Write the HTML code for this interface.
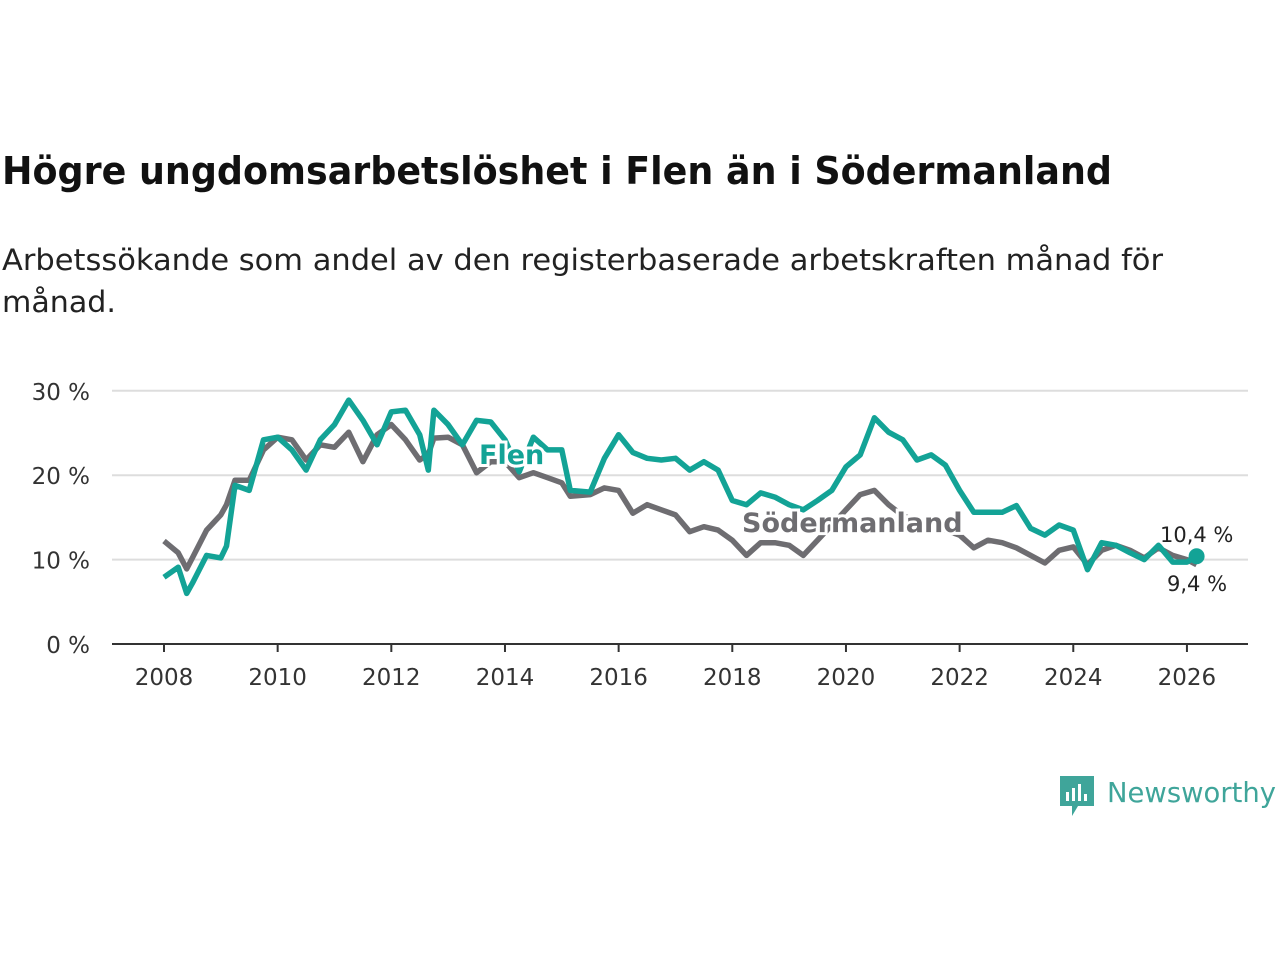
<!DOCTYPE html>
<html><head><meta charset="utf-8"><style>
body{margin:0;width:1280px;height:960px;background:#fff;font-family:"DejaVu Sans","Liberation Sans",sans-serif;overflow:hidden}
</style></head><body>
<svg width="1280" height="960">
<text x="2" y="184" font-size="38" font-weight="bold" fill="#111" textLength="1110" lengthAdjust="spacingAndGlyphs">Högre ungdomsarbetslöshet i Flen än i Södermanland</text>
<text x="2" y="270" font-size="29" fill="#222" textLength="1161" lengthAdjust="spacingAndGlyphs">Arbetssökande som andel av den registerbaserade arbetskraften månad för</text>
<text x="2" y="312" font-size="29" fill="#222" textLength="114" lengthAdjust="spacingAndGlyphs">månad.</text>
<g id="grid"></g><g id="xaxis"></g><g id="lines"></g>
<g>
<path d="M1060 776h34v30h-16l-6 10v-10h-12z" fill="#3fa59a"/>
<rect x="1066" y="792" width="3" height="9" fill="#fff"/><rect x="1072" y="788" width="3" height="13" fill="#fff"/><rect x="1078" y="784" width="3" height="17" fill="#fff"/><rect x="1084" y="794" width="3" height="7" fill="#fff"/>
<text x="1107" y="802" font-size="28" fill="#3fa59a" textLength="169" lengthAdjust="spacingAndGlyphs">Newsworthy</text></g>
</svg>
<script>
const years=[2008,2008.25,2008.4,2008.5,2008.75,2009,2009.1,2009.25,2009.5,2009.75,2010,2010.25,2010.5,2010.75,2011,2011.25,2011.5,2011.75,2012,2012.25,2012.5,2012.65,2012.75,2013,2013.25,2013.5,2013.75,2014,2014.25,2014.5,2014.75,2015,2015.15,2015.5,2015.75,2016,2016.25,2016.5,2016.75,2017,2017.25,2017.5,2017.75,2018,2018.25,2018.5,2018.75,2019,2019.25,2019.5,2019.75,2020,2020.25,2020.5,2020.75,2021,2021.25,2021.5,2021.75,2022,2022.25,2022.5,2022.75,2023,2023.25,2023.5,2023.75,2024,2024.25,2024.5,2024.75,2025,2025.25,2025.5,2025.75,2026,2026.17];
const flen=[7.9,9.1,6.0,7.2,10.5,10.2,11.6,18.8,18.2,24.2,24.5,23,20.6,24.2,26,28.9,26.5,23.6,27.5,27.7,24.8,20.6,27.7,26,23.6,26.5,26.3,24.2,20.4,24.5,23,23,18.2,18,22,24.8,22.7,22,21.8,22,20.6,21.6,20.6,17,16.5,17.9,17.4,16.5,15.9,17,18.2,21,22.4,26.8,25.1,24.2,21.8,22.4,21.2,18.2,15.6,15.6,15.6,16.4,13.7,12.9,14.1,13.5,8.8,12,11.7,10.8,10,11.7,9.7,9.7,10.4];
const sorm=[12.2,10.8,8.9,10.2,13.5,15.3,16.5,19.4,19.4,23,24.5,24.2,21.8,23.6,23.3,25.1,21.6,24.8,26,24.2,21.8,22.5,24.4,24.5,23.6,20.3,21.6,21.6,19.7,20.3,19.7,19.1,17.5,17.7,18.5,18.2,15.5,16.5,15.9,15.3,13.3,13.9,13.5,12.3,10.5,12,12,11.7,10.5,12.3,14.1,15.9,17.7,18.2,16.5,15.2,14.5,14,13.5,12.9,11.4,12.3,12,11.4,10.5,9.6,11.1,11.5,9.4,11.1,11.7,11.1,10.2,11.4,10.5,10,9.4];
const yTicks=[0,10,20,30];
const xTicks=[2008,2010,2012,2014,2016,2018,2020,2022,2024,2026];
const X=y=>164+(y-2008)*56.83, Y=v=>644-v*8.44;
const NS='http://www.w3.org/2000/svg';
function mk(p,t,a){const e=document.createElementNS(NS,t);for(const k in a)e.setAttribute(k,a[k]);document.getElementById(p).appendChild(e);return e;}
yTicks.forEach(v=>{
 if(v>0){const l=mk('grid','line',{x1:112,x2:1248,y1:Y(v),y2:Y(v),stroke:'#ddd','stroke-width':2});
 
 }
 const t=mk('grid','text',{x:90,y:Y(v)+9,'text-anchor':'end','font-size':23,fill:'#333'});t.textContent=v+' %';
 
 
});
const ax=mk('xaxis','line',{x1:112,x2:1248,y1:644,y2:644,stroke:'#333','stroke-width':2});


xTicks.forEach(v=>{
 mk('xaxis','line',{x1:X(v),x2:X(v),y1:644,y2:652,stroke:'#333','stroke-width':2});
 const t=mk('xaxis','text',{x:X(v),y:685,'text-anchor':'middle','font-size':23,fill:'#333'});t.textContent=v;
 
 
});
function line(d,c,n){const p=mk('lines','path',{d:d.map((v,i)=>(i?'L':'M')+X(years[i]).toFixed(1)+' '+Y(v).toFixed(1)).join(''),fill:'none',stroke:c,'stroke-width':5.5,'stroke-linejoin':'round'});
 
 }
line(sorm,'#6e6d71','sodermanland-line');
line(flen,'#13a396','flen-line');
function lab(x,y,s,c,n,sz,b){const t=mk('lines','text',{x:x,y:y,'font-size':sz,'font-weight':b?'bold':'normal',fill:c,stroke:'#fff','stroke-width':b?6:4,'paint-order':'stroke'});t.textContent=s;
 
 }
lab(479,464,'Flen','#13a396','flen-label',27,true);
lab(742,532,'Södermanland','#6e6d71','sodermanland-label',27,true);
const lx=X(years[years.length-1]);
const dot=mk('lines','circle',{cx:lx,cy:Y(flen[flen.length-1]),r:8,fill:'#13a396'});


lab(1160,542,flen[flen.length-1].toString().replace('.',',')+' %','#222','flen-end-value',21,false);
lab(1167,591,sorm[sorm.length-1].toString().replace('.',',')+' %','#222','sodermanland-end-value',21,false);
</script>
</body></html>
